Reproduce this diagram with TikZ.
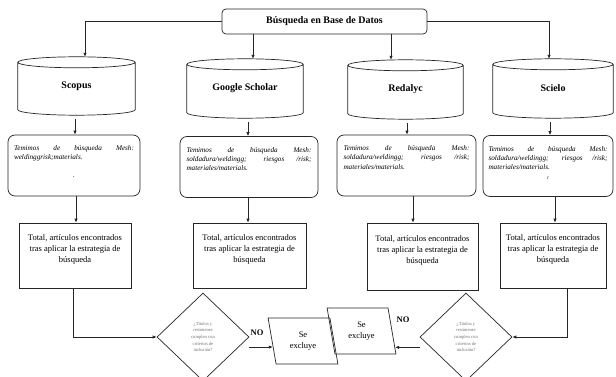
\documentclass[tikz,border=0pt]{standalone}
\usepackage{fontspec}
\setmainfont{Liberation Serif}
\usetikzlibrary{shapes.geometric,arrows.meta,calc}
\newcommand\dbshape[1]{%
  \draw[line] let \p1=(#1.north west), \p2=(#1.south east), \n1={(\x2-\x1)/2} in
    (\x1,\y1-5.5pt) -- (\x1,\y2+5.5pt) arc[start angle=180,end angle=360,x radius=\n1,y radius=5.5pt] -- (\x2,\y1-5.5pt)
    (\x1+\n1,\y1-5.5pt) ellipse[x radius=\n1,y radius=5.5pt];}
\begin{document}
\begin{tikzpicture}[x=1pt,y=-1pt,
  line/.style={draw=black!85, line width=0.7pt},
  arr/.style={line, -{Latex[length=4pt,width=3.4pt]}},
  topbox/.style={line, rounded corners=4pt, minimum width=205pt, minimum height=25pt, inner sep=0pt, font=\fontsize{10}{12}\selectfont\bfseries},
  dbnode/.style={inner sep=0pt, font=\fontsize{10}{12}\selectfont\bfseries},
  termbox/.style={line, rounded corners=7pt, inner sep=0pt, minimum height=61pt, font=\fontsize{7.2}{9.3}\selectfont\itshape},
  totbox/.style={line, inner sep=0pt, minimum height=65pt, font=\fontsize{8.5}{11}\selectfont},
  decide/.style={line, diamond, inner sep=0pt, minimum width=92pt, minimum height=88pt, align=center, text=black!55, font=\fontsize{4.6}{6.7}\selectfont},
  excl/.style={line, trapezium, trapezium left angle=102, trapezium right angle=78, trapezium stretches=true, inner sep=0pt, align=center, font=\fontsize{8.5}{11}\selectfont},
  nolab/.style={font=\fontsize{8.5}{10}\selectfont\bfseries, inner sep=0pt}
]
\useasboundingbox (0,0) rectangle (616,377);
\fill[white] (0,0) rectangle (616,377);
\clip (0,0) rectangle (616,377);

\node[topbox] (db) at (324.5,21.5) {Búsqueda en Base de Datos};

\node[dbnode, minimum width=117pt, minimum height=58pt] (sco) at (76.5,86) {Scopus};
\node[dbnode, minimum width=116pt, minimum height=59pt] (gs) at (245,88.5) {Google Scholar};
\node[dbnode, minimum width=115pt, minimum height=59pt] (red) at (405.5,89.5) {Redalyc};
\node[dbnode, minimum width=120pt, minimum height=59pt] (sci) at (553,88.5) {Scielo};
\dbshape{sco}\dbshape{gs}\dbshape{red}\dbshape{sci}

\node[termbox, minimum width=132pt] (t1) at (74,165.5) {\parbox[c][40pt][t]{120pt}{Temimos de búsqueda Mesh:\linebreak weldinggrisk;materials.\par\vspace{8pt}{\centering .\par}}};
\node[termbox, minimum width=138pt] (t2) at (249,167) {\parbox[c][40pt][t]{125pt}{Temimos de búsqueda Mesh:\linebreak soldadura/weldingg; riesgos /risk;\linebreak materiales/materials.}};
\node[termbox, minimum width=139pt] (t3) at (406.5,165.5) {\parbox[c][40pt][t]{126pt}{Temimos de búsqueda Mesh:\linebreak soldadura/weldingg; riesgos /risk;\linebreak materiales/materials.}};
\node[termbox, minimum width=130pt] (t4) at (548,166) {\parbox[c][40pt][t]{119pt}{Temimos de búsqueda Mesh:\linebreak soldadura/weldingg; riesgos /risk;\linebreak materiales/materials.\par\vspace{4pt}{\centering\fontsize{5}{6}\selectfont t\par}}};

\node[totbox, minimum width=112pt] (c1) at (75,255.5) {\parbox[c][41pt][t]{108pt}{\centering Total, artículos encontrados\\tras aplicar la estrategia de\\búsqueda}};
\node[totbox, minimum width=113pt] (c2) at (249.5,255.5) {\parbox[c][41pt][t]{108pt}{\centering Total, artículos encontrados\\tras aplicar la estrategia de\\búsqueda}};
\node[totbox, minimum width=111pt, minimum height=67pt] (c3) at (422.5,256.5) {\parbox[c][41pt][t]{108pt}{\centering Total, artículos encontrados\\tras aplicar la estrategia de\\búsqueda}};
\node[totbox, minimum width=106pt] (c4) at (553,255.5) {\parbox[c][41pt][t]{104pt}{\centering Total, artículos encontrados\\tras aplicar la estrategia de\\búsqueda}};

\node[decide] (d1) at (203,337) {¿Títulos y\\resúmenes\\cumplen con\\criterios de\\inclusión?};
\node[decide] (d2) at (466,337) {¿Títulos y\\resúmenes\\cumplen con\\criterios de\\inclusión?};

\node[excl, minimum width=70pt, minimum height=46pt] (p1) at (303,341) {Se\\excluye};
\node[excl, minimum width=69pt, minimum height=46pt] (p2) at (361.5,331) {Se\\excluye};

\node[nolab] (no1) at (257,333) {NO};
\node[nolab] (no2) at (403,320) {NO};

% top connectors
\draw[arr] (db.west) -| ([xshift=8.5pt]sco.north);
\draw[arr] ([xshift=8pt]gs.north |- db.south) -- ([xshift=8pt]gs.north);
\draw[arr] ([xshift=-14.5pt]red.north |- db.south) -- ([xshift=-14.5pt]red.north);
\draw[arr] (db.east) -| ([xshift=-4pt]sci.north);
% cylinders to term boxes
\draw[arr, shorten <=4pt] ([xshift=-1.5pt]sco.south) -- ([xshift=-1.5pt]sco.south |- t1.north);
\draw[arr, shorten <=4pt] ([xshift=3pt]gs.south) -- ([xshift=3pt]gs.south |- t2.north);
\draw[arr, shorten <=4pt] ([xshift=1.5pt]red.south) -- ([xshift=1.5pt]red.south |- t3.north);
\draw[arr, shorten <=4pt] ([xshift=-3pt]sci.south) -- ([xshift=-3pt]sci.south |- t4.north);
% term boxes to totals
\draw[arr] ([xshift=2pt]t1.south) -- ([xshift=2pt]t1.south |- c1.north);
\draw[arr] ([xshift=-1pt]t2.south) -- ([xshift=-1pt]t2.south |- c2.north);
\draw[arr] ([xshift=6.5pt]t3.south) -- ([xshift=6.5pt]t3.south |- c3.north);
\draw[arr] ([xshift=7pt]t4.south) -- ([xshift=7pt]t4.south |- c4.north);
% totals to decisions
\draw[arr] ([xshift=-2pt]c1.south) |- (d1.west);
\draw[arr] ([xshift=14pt]c4.south) |- (d2.east);
% decisions to exclusion
\coordinate (e1) at ($(p1.bottom left corner)!0.37!(p1.top left corner)$);
\coordinate (e2) at ($(p2.bottom right corner)!0.15!(p2.top right corner)$);
\draw[arr] (d1.east |- e1) -- (e1);
\draw[arr] (d2.west |- e2) -- (e2);
\end{tikzpicture}
\end{document}
